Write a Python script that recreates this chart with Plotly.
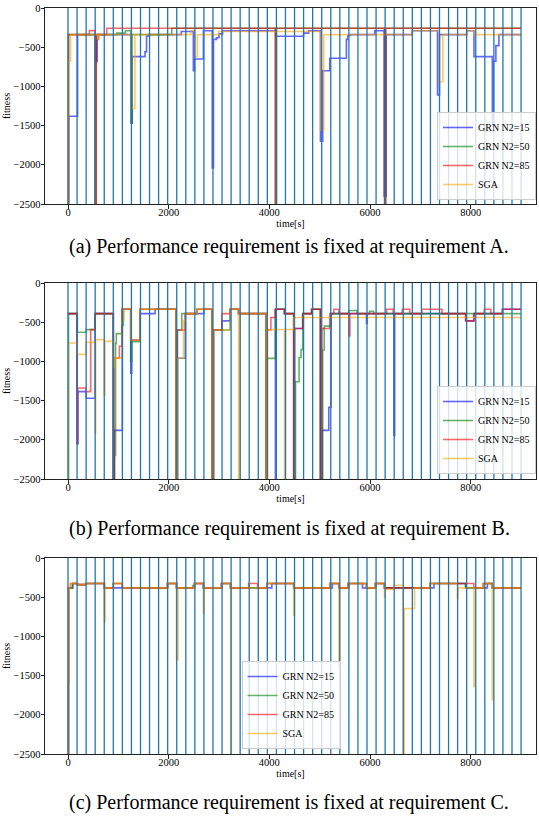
import plotly.graph_objects as go

# ---------------- data ----------------
series_names = ["GRN N2=15", "GRN N2=50", "GRN N2=85", "SGA"]
series_colors = ["#0000ff", "#008000", "#ff0000", "#ffa500"]

# (a) requirement A
a_grn15_t = [0, 15, 190, 550, 580, 600, 1260, 1275, 1530, 1560, 1600, 2250, 2490, 2515, 2690, 2865, 2890, 2950,
             3000, 3070, 4130, 4680, 4780, 5015, 5060, 5200, 5530, 5560, 5600, 6095, 6280, 6320, 6840, 7340, 7380,
             7920, 8065, 8430, 8450, 8500, 8560, 9000]
a_grn15_v = [-3000, -1380, -340, -680, -400, -340, -1470, -620, -560, -360, -340, -300, -800, -650, -290, -2040, -400,
             -380, -330, -290, -360, -320, -290, -1700, -800, -640, -400, -350, -340, -290, -2400, -340, -290, -1110,
             -340, -290, -620, -1500, -680, -480, -340, -340]
a_grn50_t = [0, 10, 537, 560, 968, 1140, 1250, 1270, 2062, 4120, 4140, 6290, 6310, 9000]
a_grn50_v = [-3000, -340, -3000, -340, -320, -290, -1470, -340, -258, -3000, -258, -3000, -258, -258]
a_grn85_t = [0, 10, 424, 537, 560, 770, 4120, 4140, 6290, 6310, 9000]
a_grn85_v = [-3000, -340, -288, -3000, -340, -258, -3000, -258, -3000, -258, -258]
a_sga_t = [0, 15, 50, 590, 620, 1265, 1330, 2445, 2525, 2570, 2990, 5015, 5080, 6840, 7368, 7447, 7920, 8065, 9000]
a_sga_v = [-3000, -680, -340, -400, -340, -1280, -340, -290, -620, -340, -300, -1560, -340, -290, -940, -340, -290,
           -340, -340]

# (b) requirement B
b_grn15_t = [0, 180, 195, 360, 537, 900, 920, 1080, 1246, 1266, 1432, 1730, 2148, 2175, 2330, 2700, 2858, 2890, 3056,
             3222, 3388, 3931, 4120, 4300, 4484, 4500, 4663, 4840, 5015, 5050, 5180, 5226, 5929, 5945, 6473, 6490,
             7900, 8065, 8630, 9000]
b_grn15_v = [-390, -2050, -1385, -1470, -390, -3000, -1880, -335, -1150, -730, -390, -335, -3000, -960, -390, -335,
             -3000, -600, -483, -335, -390, -3000, -335, -390, -3000, -580, -390, -335, -3000, -1880, -1585, -390,
             -516, -390, -1945, -390, -483, -390, -335, -335]
b_grn50_t = [0, 10, 186, 360, 537, 900, 925, 945, 960, 1067, 1100, 1246, 1266, 1432, 2148, 2175, 2260, 2560, 2858,
             2890, 3222, 3388, 3931, 3960, 4120, 4300, 4484, 4520, 4590, 4630, 4663, 4840, 5015, 5060, 5090, 5226,
             5580, 5740, 5990, 6070, 9000]
b_grn50_v = [-3000, -390, -629, -595, -390, -3000, -2200, -770, -646, -540, -335, -1000, -750, -335, -3000, -600,
             -390, -335, -3000, -600, -335, -390, -3000, -962, -335, -390, -3000, -1260, -950, -850, -390, -335,
             -3000, -855, -550, -390, -350, -390, -360, -390, -390]
b_grn85_t = [0, 180, 195, 360, 450, 537, 900, 915, 1020, 1070, 1246, 1432, 2148, 2170, 2330, 2560, 2858, 2890, 3056,
             3222, 3388, 3931, 3960, 4030, 4120, 4300, 4484, 4500, 4663, 4840, 5015, 5040, 5200, 5280, 5380, 5578,
             5600, 6330, 6460, 6640, 6790, 7030, 7430, 7900, 8065, 8270, 8400, 8630, 9000]
b_grn85_v = [-390, -2050, -1340, -1385, -595, -390, -3000, -956, -807, -335, -730, -335, -3000, -600, -390, -335,
             -3000, -600, -390, -335, -390, -3000, -600, -440, -335, -390, -3000, -580, -390, -335, -3000, -580,
             -390, -335, -390, -674, -390, -335, -390, -335, -390, -335, -390, -483, -390, -335, -390, -335, -335]
b_sga_t = [0, 10, 186, 360, 537, 550, 720, 735, 900, 920, 1080, 1110, 1246, 1432, 2148, 2175, 2294, 2330, 2560,
           2858, 2890, 3222, 3388, 3420, 3931, 3960, 4300, 4320, 4484, 9000]
b_sga_v = [-3000, -765, -910, -757, -1915, -722, -1430, -744, -1070, -956, -480, -335, -731, -335, -3000, -960,
           -480, -390, -335, -3000, -600, -335, -3000, -390, -3000, -593, -3000, -593, -440, -440]

# (c) requirement C
c_grn15_t = [0, 10, 93, 186, 360, 723, 1976, 2155, 2513, 2690, 3050, 3229, 4050, 4484, 5250, 5379, 5580, 5850,
             6108, 6287, 7270, 7898, 8330, 8429, 9000]
c_grn15_v = [-3000, -381, -326, -339, -326, -381, -326, -381, -326, -381, -326, -381, -326, -381, -326, -381, -326,
             -381, -326, -381, -326, -381, -326, -381, -381]
c_grn50_t = [0, 8, 15, 93, 186, 360, 723, 900, 1080, 1976, 2155, 2480, 2513, 2690, 3050, 3229, 3954, 4484, 5200,
             5379, 5558, 5929, 6108, 6287, 7189, 7898, 8250, 8429, 9000]
c_grn50_v = [-3000, -1600, -381, -326, -339, -326, -381, -326, -381, -326, -381, -350, -326, -381, -326, -381, -326,
             -381, -326, -381, -326, -381, -326, -381, -326, -381, -326, -381, -381]
c_grn85_t = [0, 10, 50, 186, 360, 723, 900, 1080, 1976, 2155, 2513, 2690, 3050, 3229, 3587, 3766, 3954, 4484, 5200,
             5379, 5558, 5929, 6108, 6287, 7189, 8064, 8250, 8429, 9000]
c_grn85_v = [-3000, -381, -326, -339, -326, -381, -326, -381, -326, -381, -326, -381, -326, -381, -326, -381, -326,
             -381, -326, -381, -326, -381, -326, -381, -326, -381, -326, -381, -381]
c_sga_t = [0, 8, 15, 50, 186, 360, 723, 740, 900, 1080, 1976, 2155, 2185, 2513, 2690, 2705, 3050, 3229, 3245, 3954,
           4484, 4500, 5200, 5379, 5395, 5558, 5929, 6108, 6287, 6300, 6473, 6659, 6680, 6884, 7189, 7733, 7750,
           8064, 8080, 8250, 8429, 8445, 9000]
c_sga_v = [-3000, -1600, -381, -326, -339, -326, -813, -381, -326, -381, -326, -1300, -381, -326, -707, -381, -326,
           -3000, -381, -326, -729, -381, -326, -1398, -381, -326, -381, -326, -500, -402, -347, -3000, -644, -381,
           -326, -517, -381, -1640, -381, -326, -1810, -381, -381]

# environment switch times (vertical lines)
switch_times = [0, 180, 360, 540, 720, 900, 1080, 1260, 1440, 1620, 1800, 1980, 2160, 2340, 2520, 2700, 2880,
                3060, 3240, 3420, 3600, 3780, 3960, 4140, 4320, 4500, 4680, 4860, 5040, 5220, 5400, 5580, 5760,
                5940, 6120, 6300, 6480, 6660, 6840, 7020, 7200, 7380, 7560, 7740, 7920, 8100, 8280, 8460, 8640,
                8820, 9000]

x_ticks = [0, 2000, 4000, 6000, 8000]
y_ticks = [0, -500, -1000, -1500, -2000, -2500]
captions = ["(a) Performance requirement is fixed at requirement A.",
            "(b) Performance requirement is fixed at requirement B.",
            "(c) Performance requirement is fixed at requirement C."]

panels = [
    [(a_grn15_t, a_grn15_v), (a_grn50_t, a_grn50_v), (a_grn85_t, a_grn85_v), (a_sga_t, a_sga_v)],
    [(b_grn15_t, b_grn15_v), (b_grn50_t, b_grn50_v), (b_grn85_t, b_grn85_v), (b_sga_t, b_sga_v)],
    [(c_grn15_t, c_grn15_v), (c_grn50_t, c_grn50_v), (c_grn85_t, c_grn85_v), (c_sga_t, c_sga_v)],
]

# ---------------- layout geometry (pixels) ----------------
W, H = 539, 818
plot_left, plot_right = 45, 536
panel_tops = [8, 283, 558]
panel_h = 196
caption_y = [247, 528, 802]
legend_pos = [  # (x, y, xanchor) in px; y = bottom of legend
    (536, 200, "right"),
    (536, 474, "right"),
    (291, 749, "center"),
]

FONT = "Liberation Serif, Times New Roman, serif"

fig = go.Figure()
shapes = []
for p, series in enumerate(panels):
    sfx = "" if p == 0 else str(p + 1)
    leg = "legend" if p == 0 else "legend" + str(p + 1)
    for (t, v), name, col in zip(series, series_names, series_colors):
        fig.add_trace(go.Scatter(
            x=t, y=v, mode="lines", name=name, line=dict(color=col, width=1.6, shape="hv"),
            opacity=0.6, xaxis="x" + sfx, yaxis="y" + sfx, legend=leg, hoverinfo="skip"))
    for st in switch_times:
        shapes.append(dict(type="line", xref="x" + sfx, yref="y" + sfx + " domain", x0=st, x1=st, y0=0, y1=1,
                           line=dict(color="#1f77b4", width=1.3), layer="above"))

layout = dict(
    width=W, height=H, margin=dict(l=0, r=0, t=0, b=0, autoexpand=False),
    paper_bgcolor="white", plot_bgcolor="white",
    font=dict(family=FONT, size=10, color="black"),
    shapes=shapes, showlegend=True,
)
axis_common = dict(showgrid=False, zeroline=False, showline=True, mirror=True, linecolor="#222", linewidth=1,
                   ticks="outside", ticklen=3.5, tickwidth=1, tickcolor="#222", automargin=False,
                   tickfont=dict(family=FONT, size=10.5, color="black"))
annotations = []
for p in range(3):
    sfx = "" if p == 0 else str(p + 1)
    top = panel_tops[p]
    bot = top + panel_h
    layout["xaxis" + sfx] = dict(axis_common, domain=[plot_left / W, plot_right / W], anchor="y" + sfx,
                                 range=[-457, 9297], tickvals=x_ticks, ticklabelstandoff=-5,
                                 title=dict(text="time[s]", font=dict(family=FONT, size=10), standoff=0))
    layout["yaxis" + sfx] = dict(axis_common, domain=[1 - bot / H, 1 - top / H], anchor="x" + sfx,
                                 range=[-2500, 0], tickvals=y_ticks, ticklabelstandoff=-2,
                                 title=dict(text="fitness", font=dict(family=FONT, size=10), standoff=0))
    lx, ly, xa = legend_pos[p]
    layout["legend" if p == 0 else "legend" + str(p + 1)] = dict(
        x=lx / W, y=1 - ly / H, xanchor=xa, yanchor="bottom", bgcolor="rgba(255,255,255,0.8)",
        bordercolor="#cccccc", borderwidth=1, font=dict(family=FONT, size=10, color="black"), itemwidth=30)
    annotations.append(dict(text=captions[p], xref="paper", yref="paper", x=289 / W, y=1 - caption_y[p] / H,
                            xanchor="center", yanchor="middle", showarrow=False,
                            font=dict(family=FONT, size=20, color="black")))
layout["annotations"] = annotations
fig.update_layout(**layout)
fig.write_html("out.html", config={"displayModeBar": False},
               post_script="document.body.style.margin='0px';document.body.style.overflow='hidden';")
